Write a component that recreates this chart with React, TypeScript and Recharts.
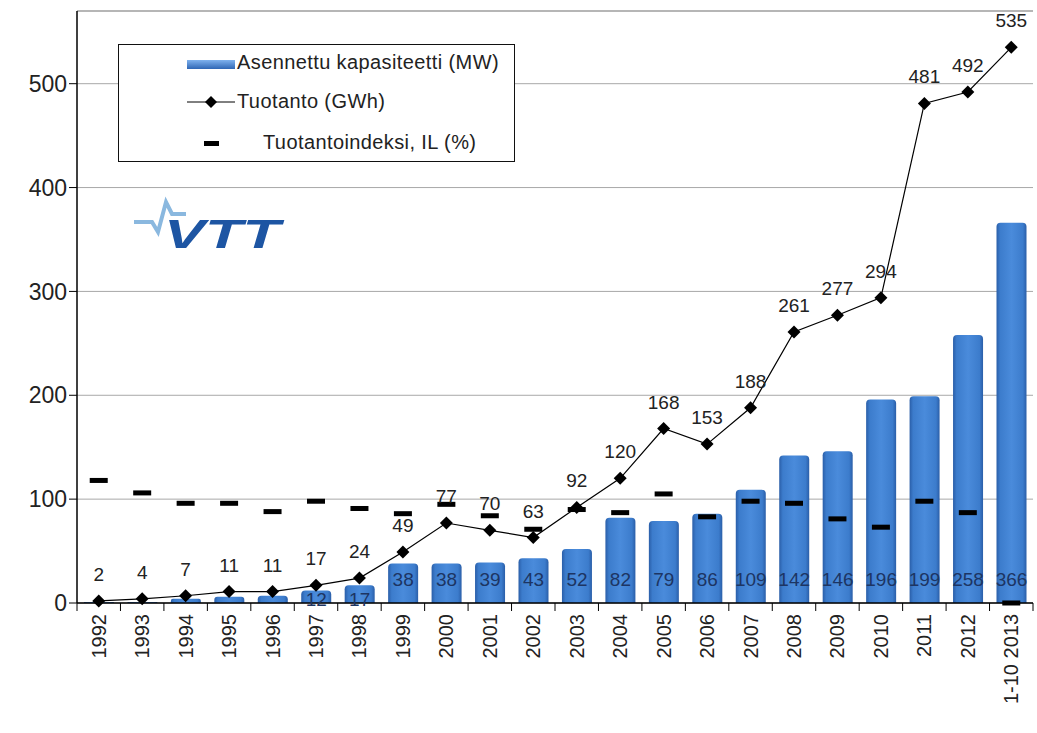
import React from 'react';
import {
    ComposedChart,
    Bar,
    Line,
    XAxis,
    YAxis,
    CartesianGrid,
    Legend,
    LabelList,
    ReferenceLine
} from 'recharts';

/* ============================
   Data
============================ */

const years = [
    '1992', '1993', '1994', '1995', '1996', '1997', '1998', '1999', '2000', '2001', '2002',
    '2003', '2004', '2005', '2006', '2007', '2008', '2009', '2010', '2011', '2012', '1-10 2013'
];

// Asennettu kapasiteetti (MW)
const capacity = [1, 1, 4, 6, 7, 12, 17, 38, 38, 39, 43, 52, 82, 79, 86, 109, 142, 146, 196, 199, 258, 366];

// Tuotanto (GWh)
const production = [2, 4, 7, 11, 11, 17, 24, 49, 77, 70, 63, 92, 120, 168, 153, 188, 261, 277, 294, 481, 492, 535];

// Tuotantoindeksi, IL (%)
const prodIndex = [118, 106, 96, 96, 88, 98, 91, 86, 95, 84, 71, 90, 87, 105, 83, 98, 96, 81, 73, 98, 87, 0];

const yTicks = [0, 100, 200, 300, 400, 500];

const chartData = years.map((year, i) => ({
    year,
    capacity: capacity[i],
    production: production[i],
    prodIndex: prodIndex[i],
}));

/* ============================
   Styling helpers
============================ */

const FONT = '"Liberation Sans", Arial, sans-serif';
const W = 1037;
const H = 733;
const PLOT_LEFT = 77;
const PLOT_RIGHT = 1033;
const HALF_BAND = (PLOT_RIGHT - PLOT_LEFT) / years.length / 2;

const XTick = (props: any) => {
    const { x, y, payload, index } = props;
    const last = index === years.length - 1;
    return (
        <g>
            <line x1={x - HALF_BAND} x2={x - HALF_BAND} y1={y - 8} y2={y} stroke="#000" />
            {last && <line x1={x + HALF_BAND} x2={x + HALF_BAND} y1={y - 8} y2={y} stroke="#000" />}
            <text
                x={0}
                y={0}
                transform={`translate(${x + 7},${y + 3}) rotate(-90)`}
                textAnchor="end"
                fontSize={20}
                fontFamily={FONT}
                fill="#222"
            >
                {payload.value}
            </text>
        </g>
    );
};

const Diamond = (props: any) => {
    const { cx, cy } = props;
    if (cx == null || cy == null) return null;
    const r = 6.5;
    return (
        <path
            d={`M${cx},${cy - r}L${cx + r},${cy}L${cx},${cy + r}L${cx - r},${cy}Z`}
            fill="#000"
        />
    );
};

const Dash = (props: any) => {
    const { cx, cy } = props;
    if (cx == null || cy == null) return null;
    return <rect x={cx - 9} y={cy - 2.5} width={18} height={5} fill="#000" />;
};

const barLabel = (props: any) => {
    const { x, y, width, height, value } = props;
    if (value < 10) return null;
    // short bars: Excel dropped the label onto the axis
    const baseline = height < 30 ? y + height + 3 : y + height - 17;
    return (
        <text
            x={x + width / 2}
            y={baseline}
            textAnchor="middle"
            fontSize={19}
            fontFamily={FONT}
            fill="#1d3563"
        >
            {value}
        </text>
    );
};

const lineLabel = (props: any) => {
    const { x, y, value } = props;
    return (
        <text
            x={x}
            y={y - 20}
            textAnchor="middle"
            fontSize={19}
            fontFamily={FONT}
            fill="#222"
        >
            {value}
        </text>
    );
};

const renderLegend = () => (
    <div
        style={{
            width: 397,
            height: 118,
            border: '1.5px solid #111',
            background: '#fff',
            boxSizing: 'border-box',
            fontFamily: FONT,
            fontSize: 20,
            letterSpacing: 0.4,
            color: '#222',
            position: 'relative',
        }}
    >
        <svg width={120} height={118} style={{ position: 'absolute', left: 0, top: 0 }}>
            <defs>
                <linearGradient id="legBar" x1="0" y1="0" x2="0" y2="1">
                    <stop offset="0%" stopColor="#7fb2ee" />
                    <stop offset="100%" stopColor="#2e66b5" />
                </linearGradient>
            </defs>
            <rect x={68} y={15} width={48} height={9} fill="url(#legBar)" />
            <line x1={68} x2={116} y1={57} y2={57} stroke="#000" />
            <path d="M92,51L98,57L92,63L86,57Z" fill="#000" />
            <rect x={85} y={96} width={15} height={5} fill="#000" />
        </svg>
        <div style={{ position: 'absolute', left: 118, top: 6 }}>Asennettu kapasiteetti (MW)</div>
        <div style={{ position: 'absolute', left: 118, top: 45 }}>Tuotanto (GWh)</div>
        <div style={{ position: 'absolute', left: 144, top: 86 }}>Tuotantoindeksi, IL (%)</div>
    </div>
);

const VttLogo = () => (
    <svg
        width={180}
        height={64}
        style={{ position: 'absolute', left: 128, top: 192 }}
    >
        <polyline
            points="6,30 24,30 30,40 38,10 44,22 58,22"
            fill="none"
            stroke="#8ab8df"
            strokeWidth={4}
        />
        <text
            x={36}
            y={56}
            fontSize={40}
            fontWeight="bold"
            fontStyle="italic"
            fontFamily={FONT}
            fill="#1d55a3"
            textLength={116}
            lengthAdjust="spacingAndGlyphs"
        >
            VTT
        </text>
    </svg>
);

/* ============================
   Component
============================ */

const App: React.FC = () => {
    return (
        <div style={{ position: 'absolute', left: 0, top: 0, width: W, height: H, background: '#fff' }}>
            <ComposedChart
                width={W}
                height={H}
                data={chartData}
                margin={{ top: 11, right: W - PLOT_RIGHT, bottom: 0, left: 0 }}
                barCategoryGap="16%"
            >
                <defs>
                    <linearGradient id="barFill" x1="0" y1="0" x2="1" y2="0">
                        <stop offset="0%" stopColor="#2a5ea8" />
                        <stop offset="12%" stopColor="#3c7ccc" />
                        <stop offset="50%" stopColor="#4a8bdb" />
                        <stop offset="88%" stopColor="#3c7ccc" />
                        <stop offset="100%" stopColor="#2a5ea8" />
                    </linearGradient>
                </defs>
                <CartesianGrid vertical={false} stroke="#a8a8a8" yAxisId="l" />
                <XAxis
                    dataKey="year"
                    yAxisId="l"
                    axisLine={{ stroke: '#000', strokeWidth: 1.5 }}
                    tickLine={false}
                    tick={<XTick />}
                    interval={0}
                    height={130}
                />
                <YAxis
                    yAxisId="l"
                    domain={[0, 570]}
                    ticks={yTicks}
                    width={PLOT_LEFT}
                    axisLine={{ stroke: '#000', strokeWidth: 1.5 }}
                    tickLine={{ stroke: '#000' }}
                    tickSize={8}
                    tick={{ fontSize: 23, fontFamily: FONT, fill: '#222' }}
                />
                <YAxis
                    yAxisId="r"
                    orientation="right"
                    domain={[0, 570]}
                    width={0}
                    tick={false}
                    tickLine={false}
                    axisLine={{ stroke: '#999' }}
                />
                <ReferenceLine yAxisId="l" y={570} stroke="#999" />
                <Bar
                    yAxisId="l"
                    dataKey="capacity"
                    name="Asennettu kapasiteetti (MW)"
                    fill="url(#barFill)"
                    radius={[4, 4, 0, 0]}
                    isAnimationActive={false}
                >
                    <LabelList dataKey="capacity" content={barLabel} />
                </Bar>
                <Line
                    yAxisId="l"
                    dataKey="production"
                    name="Tuotanto (GWh)"
                    stroke="#000"
                    strokeWidth={1.2}
                    dot={<Diamond />}
                    activeDot={false}
                    isAnimationActive={false}
                >
                    <LabelList dataKey="production" content={lineLabel} />
                </Line>
                <Line
                    yAxisId="l"
                    dataKey="prodIndex"
                    name="Tuotantoindeksi, IL (%)"
                    stroke="none"
                    dot={<Dash />}
                    activeDot={false}
                    isAnimationActive={false}
                />
                <Legend
                    content={renderLegend}
                    layout="horizontal"
                    verticalAlign="middle"
                    align="center"
                    wrapperStyle={{ position: 'absolute', left: 118, top: 44, width: 397, height: 118 }}
                />
            </ComposedChart>
            <VttLogo />
        </div>
    );
};

export default App;
